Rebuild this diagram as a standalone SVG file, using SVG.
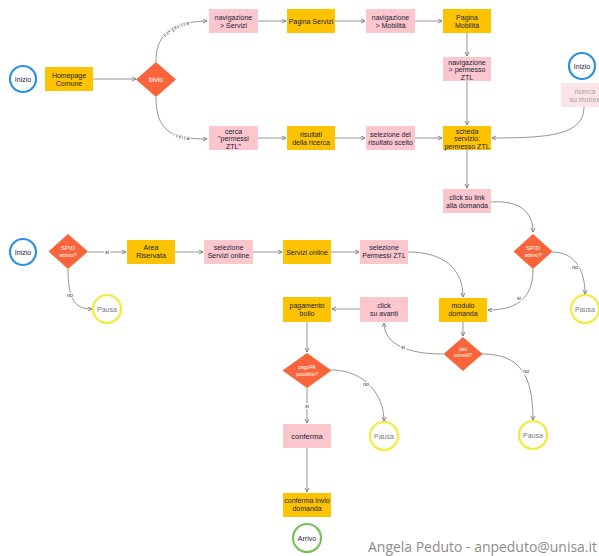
<svg xmlns="http://www.w3.org/2000/svg" width="599" height="556" viewBox="0 0 599 556">
  <style>
    .bg { fill: #ffffff; }
    .pink { fill: #fbc6cc; }
    .gold { fill: #fdc300; }
    .faded { fill: #fde5e7; }
    .dia { fill: #f9643a; }
    .start { fill: #ffffff; stroke: #2f8fe0; stroke-width: 2.2; }
    .pause { fill: #ffffff; stroke: #f3ea3c; stroke-width: 2.2; }
    .end { fill: #ffffff; stroke: #79c25a; stroke-width: 2.2; }
    text { font-family: "Liberation Sans", Arial, sans-serif; text-anchor: middle; }
    .t { font-size: 7px; fill: #22223a; }
    .tw { font-size: 6px; fill: #ffffff; }
    .ts { font-size: 5px; fill: #ffffff; }
    .tp { font-size: 7px; fill: #7a7a7a; }
    .tf { font-size: 7px; fill: #a0a0a0; }
    .edge { fill: none; stroke: #8a8a8a; stroke-width: 0.9; marker-end: url(#arrow); }
    .lbl { font-size: 5.5px; fill: #33334a; stroke: #ffffff; stroke-width: 2.5px; paint-order: stroke; stroke-linejoin: round; }
    .foot { font-family: "Open Sans", "Liberation Sans", sans-serif; font-size: 14px; fill: #8c8c8c; text-anchor: end; }
  </style>
  <defs>
    <marker id="arrow" markerWidth="6" markerHeight="6" refX="4.5" refY="2.5" orient="auto" markerUnits="userSpaceOnUse">
      <path d="M0.5,0.5 L4.5,2.5 L0.5,4.5" fill="none" stroke="#7a7a7a" stroke-width="0.9"/>
    </marker>
  </defs>
  <rect class="bg" x="0" y="0" width="599" height="556"/>

  <!-- connectors -->
  <g id="connectors">
    <path class="edge" d="M93,79 L136,79"/>
    <path id="e-nav" class="edge" d="M156,62 C156,40 165,22 207,21"/>
    <path id="e-ric" class="edge" d="M156,97 C156,130 170,139 207,139"/>
    <path class="edge" d="M258,21 L286,21"/>
    <path class="edge" d="M335,21 L365,21"/>
    <path class="edge" d="M415,21 L442,21"/>
    <path class="edge" d="M467,33 L467,56"/>
    <path class="edge" d="M467,81 L467,125"/>
    <path class="edge" d="M258,138 L286,138"/>
    <path class="edge" d="M335,138 L365,138"/>
    <path class="edge" d="M415,138 L442,138"/>
    <path class="edge" d="M584,107 C584,135 550,138 492,138"/>
    <path class="edge" d="M467,150 L467,188"/>
    <path class="edge" d="M491,202 C520,200 533,212 533,232"/>
    <path class="edge" d="M552,252 C575,252 585,270 585,294"/>
    <path class="edge" d="M533,269 C533,300 515,310 488,310"/>
    <path class="edge" d="M408,252 C445,252 463,270 463,297"/>
    <path class="edge" d="M88,252 L126,252"/>
    <path class="edge" d="M175,252 L203,252"/>
    <path class="edge" d="M253,252 L282,252"/>
    <path class="edge" d="M331,252 L359,252"/>
    <path class="edge" d="M68,269 C68,300 75,309 92,309"/>
    <path class="edge" d="M463,322 L463,336"/>
    <path class="edge" d="M443,354 C400,354 384,340 384,323"/>
    <path class="edge" d="M482,354 C520,354 533,375 533,420"/>
    <path class="edge" d="M360,309 L332,309"/>
    <path class="edge" d="M307,322 L307,352"/>
    <path class="edge" d="M331,370 C365,370 384,395 384,421"/>
    <path class="edge" d="M307,388 L307,423"/>
    <path class="edge" d="M307,448 L307,492"/>

    <!-- edge labels -->
    <text class="lbl" dy="2"><textPath href="#e-nav" startOffset="57%">navigazione</textPath></text>
    <text class="lbl" dy="2"><textPath href="#e-ric" startOffset="67%">ricerca</textPath></text>
    <text class="lbl" x="107" y="254">si</text>
    <text class="lbl" x="70" y="297">no</text>
    <text class="lbl" x="575" y="269">no</text>
    <text class="lbl" x="519" y="300">si</text>
    <text class="lbl" x="403" y="349">si</text>
    <text class="lbl" x="526" y="373">no</text>
    <text class="lbl" x="366" y="386">no</text>
    <text class="lbl" x="307" y="408">si</text>
  </g>

  <!-- top flow -->
  <g id="inizio1"><circle class="start" cx="23" cy="79" r="13"/><text class="t" x="23" y="81.5">Inizio</text></g>
  <g id="homepage"><rect class="gold" x="45" y="67" width="48" height="24"/><text class="t" x="69" y="77.5">Homepage</text><text class="t" x="69" y="85.5">Comune</text></g>
  <g id="bivio"><polygon class="dia" points="156,62 176,79.5 156,97 136,79.5"/><text class="t" x="156" y="82" style="fill:#fff">bivio</text></g>

  <g id="nav-servizi"><rect class="pink" x="209" y="9" width="49" height="24"/><text class="t" x="233.5" y="19.5">navigazione</text><text class="t" x="233.5" y="27.5">&gt; Servizi</text></g>
  <g id="pagina-servizi"><rect class="gold" x="287" y="9" width="48" height="24"/><text class="t" x="311" y="23.5">Pagina Servizi</text></g>
  <g id="nav-mobilita"><rect class="pink" x="366" y="9" width="49" height="24"/><text class="t" x="390.5" y="19.5">navigazione</text><text class="t" x="390.5" y="27.5">&gt; Mobilità</text></g>
  <g id="pagina-mobilita"><rect class="gold" x="443" y="9" width="48" height="24"/><text class="t" x="467" y="19.5">Pagina</text><text class="t" x="467" y="27.5">Mobilità</text></g>
  <g id="nav-permesso"><rect class="pink" x="443" y="57" width="48" height="24"/><text class="t" x="467" y="64.5">navigazione</text><text class="t" x="467" y="72">&gt; permesso</text><text class="t" x="467" y="79.5">ZTL</text></g>

  <g id="cerca"><rect class="pink" x="209" y="126" width="49" height="24"/><text class="t" x="233.5" y="133.5">cerca</text><text class="t" x="233.5" y="141">"permessi</text><text class="t" x="233.5" y="148.5">ZTL"</text></g>
  <g id="risultati"><rect class="gold" x="287" y="126" width="48" height="24"/><text class="t" x="311" y="136.5">risultati</text><text class="t" x="311" y="144.5">della ricerca</text></g>
  <g id="selezione-risultato"><rect class="pink" x="366" y="126" width="49" height="24"/><text class="t" x="390.5" y="136.5">selezione del</text><text class="t" x="390.5" y="144.5">risultato scelto</text></g>
  <g id="scheda"><rect class="gold" x="443" y="126" width="48" height="24"/><text class="t" x="467" y="133.5">scheda</text><text class="t" x="467" y="141">servizio:</text><text class="t" x="467" y="148.5">permesso ZTL</text></g>

  <g id="inizio3"><circle class="start" cx="582" cy="66" r="13"/><text class="t" x="582" y="68.5">Inizio</text></g>
  <g id="ricerca-motore"><rect class="faded" x="561" y="83" width="48" height="24"/><text class="tf" x="585" y="93.5">ricerca</text><text class="tf" x="585" y="101.5">su motore</text></g>

  <g id="click-link"><rect class="pink" x="443" y="189" width="48" height="24"/><text class="t" x="467" y="199.5">click su link</text><text class="t" x="467" y="207.5">alla domanda</text></g>
  <g id="spid2"><polygon class="dia" points="533,234 552.5,251.5 533,269 513.5,251.5"/><text class="tw" x="533" y="250">SPID</text><text class="tw" x="533" y="257">attivo?</text></g>
  <g id="pausa2"><circle class="pause" cx="585" cy="309" r="14"/><text class="tp" x="585" y="311.5">Pausa</text></g>

  <!-- middle flow -->
  <g id="inizio2"><circle class="start" cx="23" cy="252" r="13"/><text class="t" x="23" y="254.5">Inizio</text></g>
  <g id="spid1"><polygon class="dia" points="68,234 88,251.5 68,269 48.5,251.5"/><text class="tw" x="68" y="250">SPID</text><text class="tw" x="68" y="257">attivo?</text></g>
  <g id="pausa1"><circle class="pause" cx="107" cy="309" r="14"/><text class="tp" x="107" y="311.5">Pausa</text></g>
  <g id="area"><rect class="gold" x="127" y="240" width="48" height="24"/><text class="t" x="151" y="249.5">Area</text><text class="t" x="151" y="257.5">Riservata</text></g>
  <g id="sel-servizi"><rect class="pink" x="204" y="240" width="49" height="24"/><text class="t" x="228.5" y="249.5">selezione</text><text class="t" x="228.5" y="257.5">Servizi online</text></g>
  <g id="servizi-online"><rect class="gold" x="283" y="240" width="48" height="24"/><text class="t" x="307" y="254.5">Servizi online</text></g>
  <g id="sel-permessi"><rect class="pink" x="360" y="240" width="48" height="24"/><text class="t" x="384" y="249.5">selezione</text><text class="t" x="384" y="257.5">Permessi ZTL</text></g>

  <g id="modulo"><rect class="gold" x="439" y="298" width="48" height="24"/><text class="t" x="463" y="308">modulo</text><text class="t" x="463" y="316">domanda</text></g>
  <g id="dati-corretti"><polygon class="dia" points="463,337 482.5,354 463,371 443.5,354"/><text class="ts" x="463" y="351">dati</text><text class="ts" x="463" y="357">corretti?</text></g>
  <g id="pausa3"><circle class="pause" cx="533" cy="435" r="14"/><text class="tp" x="533" y="437.5">Pausa</text></g>

  <g id="click-avanti"><rect class="pink" x="360" y="297" width="48" height="25"/><text class="t" x="384" y="307.5">click</text><text class="t" x="384" y="315.5">su avanti</text></g>
  <g id="pagamento"><rect class="gold" x="283" y="297" width="48" height="25"/><text class="t" x="307" y="307.5">pagamento</text><text class="t" x="307" y="315.5">bollo</text></g>

  <!-- bottom flow -->
  <g id="pagopa"><polygon class="dia" points="307,353 331.5,370.5 307,388 282.5,370.5"/><text class="ts" x="307" y="369">pagoPA</text><text class="ts" x="307" y="375.5">possibile?</text></g>
  <g id="pausa4"><circle class="pause" cx="384" cy="436" r="14"/><text class="tp" x="384" y="438.5">Pausa</text></g>
  <g id="conferma"><rect class="pink" x="283" y="424" width="48" height="24"/><text class="t" x="307" y="438.5" style="font-size:7.5px">conferma</text></g>
  <g id="conferma-invio"><rect class="gold" x="283" y="493" width="48" height="24"/><text class="t" x="307" y="503">conferma invio</text><text class="t" x="307" y="511">domanda</text></g>
  <g id="arrivo"><circle class="end" cx="307" cy="538" r="14"/><text class="t" x="307" y="540.5">Arrivo</text></g>

  <text class="foot" x="597" y="552" textLength="229" lengthAdjust="spacingAndGlyphs">Angela Peduto - anpeduto@unisa.it</text>
</svg>
